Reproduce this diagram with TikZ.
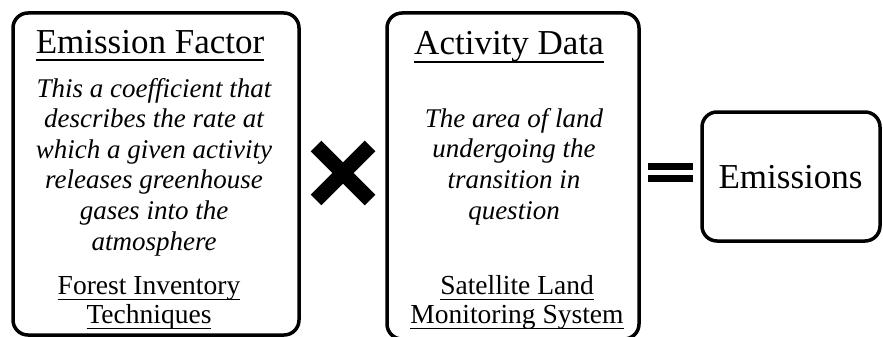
\documentclass[tikz,border=0pt]{standalone}
\usepackage{fontspec}
\setmainfont{Liberation Serif}
\usetikzlibrary{calc}
% underline at a fixed depth below the baseline
\newcommand\ulx[1]{\leavevmode\setbox0\hbox{#1}\rlap{\rule[-0.22em]{\wd0}{0.055em}}\box0}
\begin{document}
\begin{tikzpicture}[x=1pt,y=-1pt,
  panel/.style={draw, line width=3.5pt, rounded corners=15pt, inner sep=0pt},
  titletext/.style={font=\fontsize{35}{40}\selectfont, anchor=base, inner sep=0pt},
  bodytext/.style={font=\fontsize{27}{30.6}\selectfont\itshape, align=center, anchor=base, inner sep=0pt},
  sourcetext/.style={font=\fontsize{27.5}{29}\selectfont, align=center, anchor=base, inner sep=0pt},
  opbar/.style={line width=7pt},
  crossbar/.style={line width=15pt}]
\useasboundingbox (0,0) rectangle (883,337);

% the three boxes
\node[panel, minimum width=286pt, minimum height=322pt] (ef) at (156,174) {};
\node[panel, minimum width=252pt, minimum height=326pt] (ad) at (513,176) {};
\node[panel, minimum width=178pt, minimum height=129pt] (em) at (791,176.5) {};

% emission factor (multi-line nodes sit on the baseline of their last line)
\node[titletext] (eft) at (150,53) {\ulx{Emission Factor}};
\node[bodytext] (efb) at (154,250) {This a coefficient that\\describes the rate at\\which a given activity\\releases greenhouse\\gases into the\\atmosphere};
\node[sourcetext] (efs) at (149,323) {\ulx{Forest Inventory}\\\ulx{Techniques}};

% activity data
\node[titletext] (adt) at (509,55) {\ulx{Activity Data}};
\node[bodytext] (adb) at (514,219) {The area of land\\undergoing the\\transition in\\question};
\node[sourcetext] (ads) at (517,323) {\ulx{Satellite Land}\\\ulx{Monitoring System}};

% result
\node[titletext] (emt) at (790.5,188) {Emissions};

% multiplication sign
\coordinate (xc) at (343,173);
\draw[crossbar] ($(xc)+(-27,-27)$) -- ($(xc)+(27,27)$);
\draw[crossbar] ($(xc)+(27,-27)$) -- ($(xc)+(-27,27)$);

% equals sign
\draw[opbar] (648,166.5) -- (693,166.5);
\draw[opbar] (648,178.5) -- (693,178.5);
\end{tikzpicture}
\end{document}
